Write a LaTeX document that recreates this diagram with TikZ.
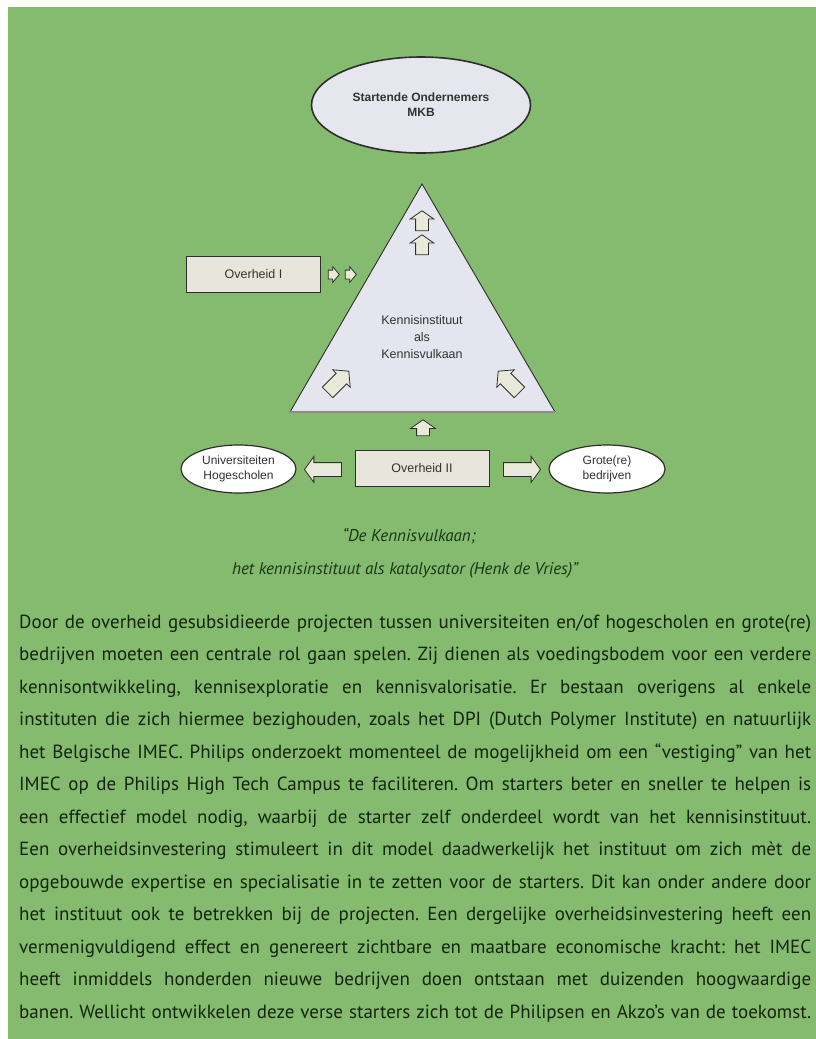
\documentclass[tikz,border=0pt]{standalone}
\usepackage{fontspec}
\setmainfont{Liberation Sans}
\newfontfamily\bodyfont{PT Sans}
\usetikzlibrary{shapes.geometric,shapes.arrows}
\definecolor{bg}{HTML}{84BB6E}
\definecolor{bodytext}{HTML}{15230F}
\definecolor{captext}{HTML}{1A3515}
\definecolor{ovalfill}{HTML}{E6E6EE}
\definecolor{trifill}{HTML}{E4E5EE}
\definecolor{boxfill}{HTML}{E8E6DC}
\definecolor{arrowfill}{HTML}{E9E9DA}
\definecolor{lineclr}{HTML}{2E2E2E}
\definecolor{baseclr}{HTML}{8C8C8C}
\definecolor{labelclr}{HTML}{333333}
\newcommand\jline[1]{\frenchspacing\makebox[792pt][s]{#1}}
\tikzset{
  oval/.style={ellipse, draw=lineclr, line width=1.2pt, inner sep=0pt, align=center, text=labelclr, font=\fontsize{12}{15}\selectfont},
  govbox/.style={rectangle, draw=lineclr, line width=1pt, fill=boxfill, minimum width=134pt, minimum height=36pt, inner sep=0pt, text=labelclr, font=\fontsize{12.5}{15}\selectfont},
  blockarrow/.style={single arrow, draw=lineclr, fill=arrowfill, line width=0.8pt, inner xsep=0pt},
  bodyline/.style={anchor=base west, inner sep=0pt, text=bodytext, font=\bodyfont\fontsize{19}{22}\selectfont},
  caption/.style={inner sep=0pt, text=captext, font=\bodyfont\itshape\fontsize{17}{20}\selectfont}
}
\begin{document}
\begin{tikzpicture}[x=1pt,y=-1pt]
\useasboundingbox (0,0) rectangle (816,1039);
\clip (0,0) rectangle (816,1039);
\fill[white] (0,0) rectangle (816,1039);
\fill[bg] (8,7) rectangle (816,1039);

% top ellipse
\node[oval, fill=ovalfill, line width=1.6pt, minimum width=219pt, minimum height=96pt, font=\bfseries\fontsize{12}{15}\selectfont] (mkb) at (421,105) {Startende Ondernemers\\MKB};

% triangle
\coordinate (apex) at (422,184);
\coordinate (bl) at (290,412);
\coordinate (br) at (555,412);
\fill[trifill] (apex) -- (bl) -- (br) -- cycle;
\draw[lineclr, line width=0.9pt] (bl) -- (apex) -- (br);
\draw[baseclr, line width=2pt] (bl) -- (br);
\node[align=center, text=labelclr, font=\fontsize{12.5}{17}\selectfont, inner sep=0pt] (kv) at (422,337) {Kennisinstituut\\als\\Kennisvulkaan};

% arrows inside triangle
\node[blockarrow, rotate=90, inner ysep=6pt, single arrow head extend=5.5pt, minimum height=20pt, single arrow tip angle=110] (up1) at (422,223) {};
\node[blockarrow, rotate=90, inner ysep=6pt, single arrow head extend=5.5pt, minimum height=20pt, single arrow tip angle=110] (up2) at (422,247) {};
\node[blockarrow, rotate=45, inner ysep=7pt, single arrow head extend=5pt, minimum height=30pt, single arrow tip angle=100] (dl) at (336,384) {};
\node[blockarrow, rotate=135, inner ysep=7pt, single arrow head extend=5pt, minimum height=30pt, single arrow tip angle=100] (dr) at (511,384) {};

% Overheid I
\node[govbox] (ov1) at (253.5,274.5) {Overheid I};
\node[blockarrow, inner ysep=4pt, single arrow head extend=3.5pt, minimum height=11pt, single arrow tip angle=100] (sa1) at (332,274.5) {};
\node[blockarrow, inner ysep=4pt, single arrow head extend=3.5pt, minimum height=11pt, single arrow tip angle=100] (sa2) at (349,274.5) {};

% below triangle
\node[blockarrow, rotate=90, inner ysep=6pt, single arrow head extend=6pt, minimum height=16pt, single arrow tip angle=110] (upb) at (423,430) {};

% Overheid II row
\node[govbox] (ov2) at (422,468) {Overheid II};
\node[blockarrow, shape border rotate=180, inner ysep=6.5pt, single arrow head extend=6pt, minimum height=37pt, single arrow tip angle=108] (la) at (325.5,469.5) {};
\node[blockarrow, inner ysep=6.5pt, single arrow head extend=6pt, minimum height=37pt, single arrow tip angle=108] (ra) at (519.5,469.5) {};
\node[oval, fill=white, minimum width=115pt, minimum height=48pt] (uni) at (238.5,469) {Universiteiten\\Hogescholen};
\node[oval, fill=white, minimum width=116pt, minimum height=48pt] (grote) at (607,469) {Grote(re)\\bedrijven};

% caption
\node[caption] (cap1) at (409,536) {“De Kennisvulkaan;};
\node[caption] (cap2) at (405,570) {het kennisinstituut als katalysator (Henk de Vries)”};

% body text
\node[bodyline] (l1) at (19,628) {\jline{Door de overheid gesubsidieerde projecten tussen universiteiten en/of hogescholen en grote(re)}};
\node[bodyline] (l2) at (19,660.5) {\jline{bedrijven moeten een centrale rol gaan spelen. Zij dienen als voedingsbodem voor een verdere}};
\node[bodyline] (l3) at (19,693) {\jline{kennisontwikkeling, kennisexploratie en kennisvalorisatie. Er bestaan overigens al enkele}};
\node[bodyline] (l4) at (19,725.5) {\jline{instituten die zich hiermee bezighouden, zoals het DPI (Dutch Polymer Institute) en natuurlijk}};
\node[bodyline] (l5) at (19,758) {\jline{het Belgische IMEC. Philips onderzoekt momenteel de mogelijkheid om een “vestiging” van het}};
\node[bodyline] (l6) at (19,790.5) {\jline{IMEC op de Philips High Tech Campus te faciliteren. Om starters beter en sneller te helpen is}};
\node[bodyline] (l7) at (19,823) {\jline{een effectief model nodig, waarbij de starter zelf onderdeel wordt van het kennisinstituut.}};
\node[bodyline] (l8) at (19,855.5) {\jline{Een overheidsinvestering stimuleert in dit model daadwerkelijk het instituut om zich mèt de}};
\node[bodyline] (l9) at (19,888) {\jline{opgebouwde expertise en specialisatie in te zetten voor de starters. Dit kan onder andere door}};
\node[bodyline] (l10) at (19,920.5) {\jline{het instituut ook te betrekken bij de projecten. Een dergelijke overheidsinvestering heeft een}};
\node[bodyline] (l11) at (19,953) {\jline{vermenigvuldigend effect en genereert zichtbare en maatbare economische kracht: het IMEC}};
\node[bodyline] (l12) at (19,985.5) {\jline{heeft inmiddels honderden nieuwe bedrijven doen ontstaan met duizenden hoogwaardige}};
\node[bodyline] (l13) at (19,1018) {\jline{banen. Wellicht ontwikkelen deze verse starters zich tot de Philipsen en Akzo’s van de toekomst.}};
\end{tikzpicture}
\end{document}
